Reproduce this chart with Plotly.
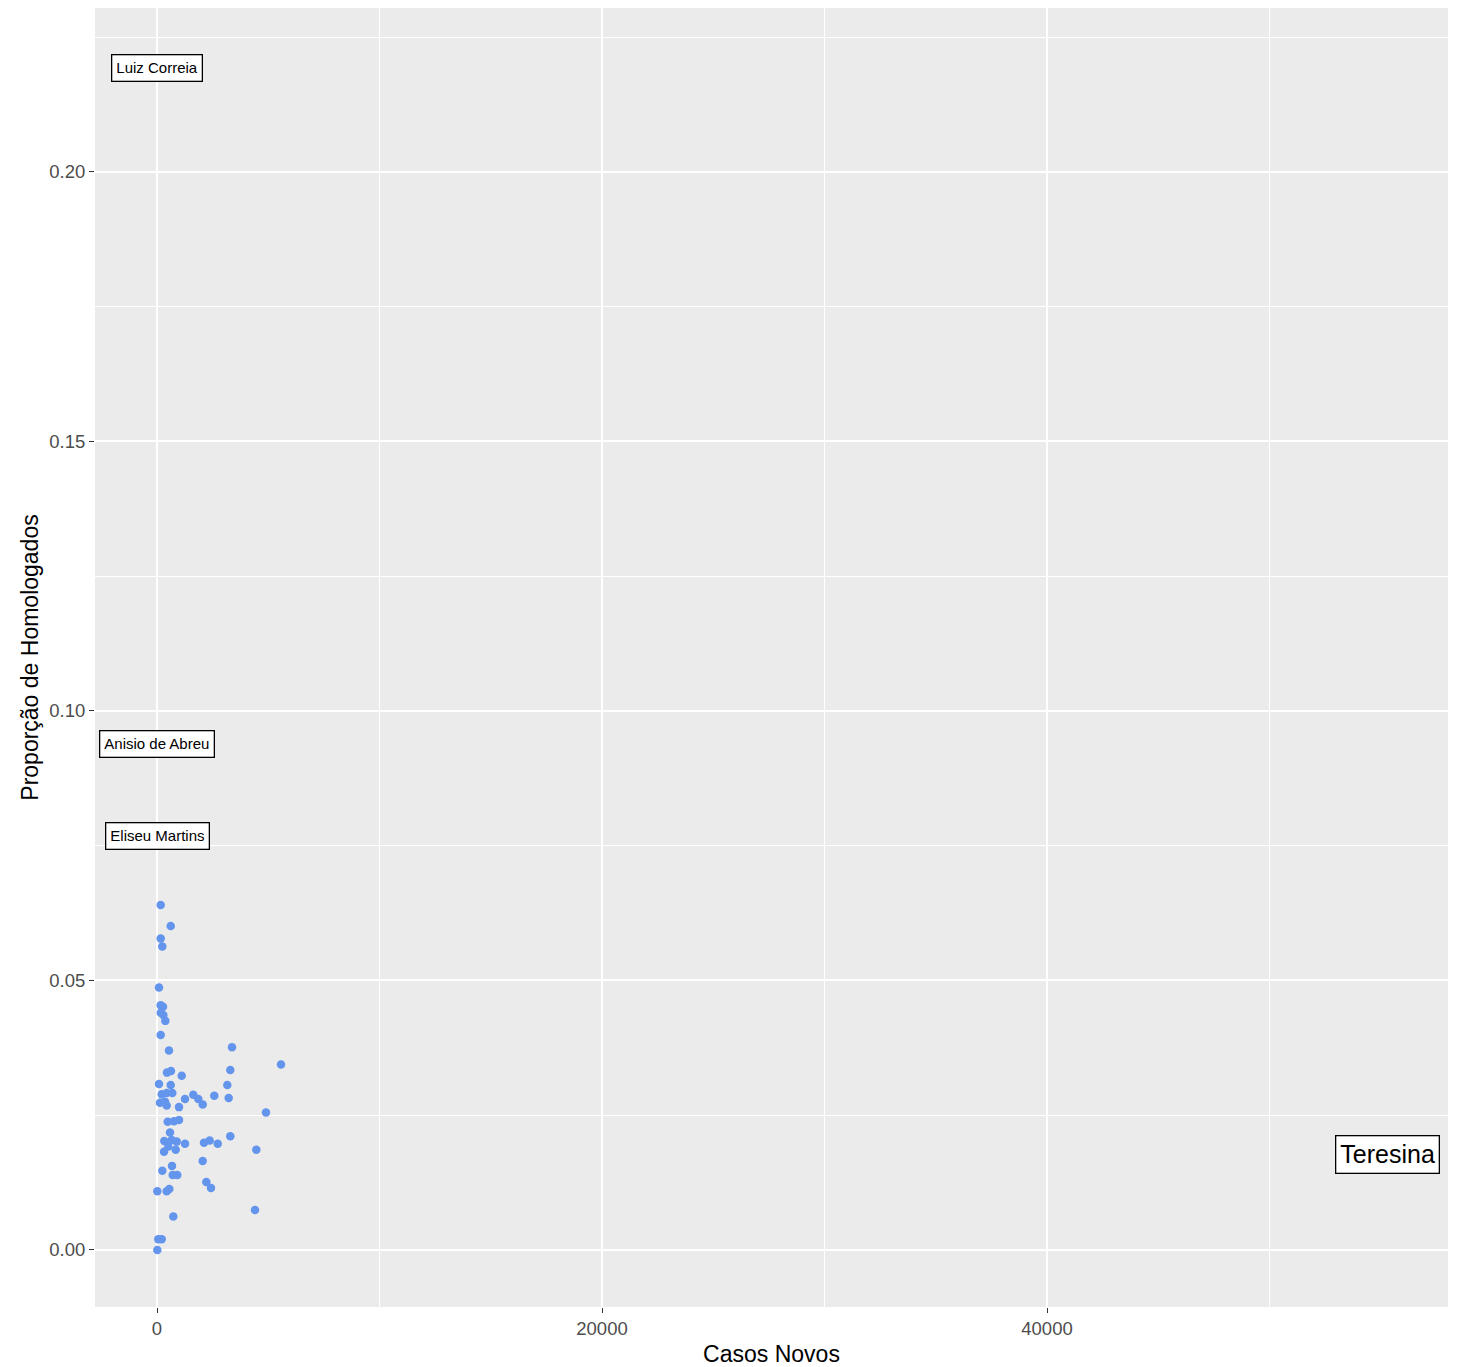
import plotly.graph_objects as go

# Unlabelled municipalities: new cases vs proportion homologated
casos_novos = [166, 616, 166, 238, 90, 166, 270, 166, 283, 373, 166, 539, 3370, 5573, 3294,
               449, 629, 1110, 90, 616, 3159, 211, 436, 688, 1258, 1631, 1856, 2054, 2575, 3222,
               135, 360, 436, 989, 4898, 481, 764, 989, 584, 328, 661, 885, 508, 840, 315,
               1258, 2112, 2368, 2728, 3294, 4463, 2054, 674, 238, 706, 912, 2216, 2427, 13,
               436, 553, 4404, 733, 58, 211, 13]
proporcao = [0.0640, 0.0601, 0.0578, 0.0563, 0.0487, 0.0454, 0.0451, 0.0440, 0.0436, 0.0425,
             0.0399, 0.0370, 0.0376, 0.0344, 0.0334, 0.0329, 0.0332, 0.0323, 0.0308, 0.0306,
             0.0306, 0.0289, 0.0291, 0.0291, 0.0280, 0.0288, 0.0280, 0.0270, 0.0286, 0.0282,
             0.0273, 0.0275, 0.0268, 0.0265, 0.0255, 0.0238, 0.0239, 0.0241, 0.0218, 0.0202,
             0.0204, 0.0201, 0.0192, 0.0186, 0.0182, 0.0197, 0.0199, 0.0203, 0.0197, 0.0211,
             0.0186, 0.0165, 0.0156, 0.0147, 0.0139, 0.0139, 0.0126, 0.0115, 0.0109, 0.0109,
             0.0113, 0.0074, 0.0062, 0.0020, 0.0020, 0.0]

# Labelled municipalities
rotulos = ["Luiz Correia", "Anisio de Abreu", "Eliseu Martins", "Teresina"]
rotulos_x = [0, 0, 0, 55300]
rotulos_y = [0.2193, 0.0939, 0.0768, 0.0178]
rotulos_tamanho = [15, 15, 15, 25]

x_ticks = [0, 20000, 40000]
y_ticks = [0.00, 0.05, 0.10, 0.15, 0.20]
y_tick_text = ["0.00", "0.05", "0.10", "0.15", "0.20"]

FONT = "Arial, Liberation Sans, sans-serif"

fig = go.Figure()
fig.add_trace(go.Scatter(
    x=casos_novos + rotulos_x, y=proporcao + rotulos_y, mode="markers",
    marker=dict(color="#6495ED", size=8.5, line=dict(width=0)),
    showlegend=False, hoverinfo="x+y"))

for t, xv, yv, s in zip(rotulos, rotulos_x, rotulos_y, rotulos_tamanho):
    fig.add_annotation(x=xv, y=yv, xref="x", yref="y", text=t, showarrow=False,
                       font=dict(family=FONT, size=s, color="black"),
                       bgcolor="white", bordercolor="black", borderwidth=1.3,
                       borderpad=4, xanchor="center", yanchor="middle")

fig.update_layout(
    width=1455, height=1359,
    margin=dict(l=87, r=15, t=0, b=60),
    paper_bgcolor="white", plot_bgcolor="#EBEBEB",
    font=dict(family=FONT, color="black"),
    xaxis=dict(range=[-2787, 58022], tickvals=x_ticks, ticktext=[str(v) for v in x_ticks],
               showgrid=True, gridcolor="white", gridwidth=1.8, zeroline=False,
               minor=dict(tickvals=[10000, 30000, 50000], showgrid=True, gridcolor="white", gridwidth=0.9, ticks=""),
               ticks="outside", ticklen=5, tickwidth=1.2, tickcolor="#333333",
               tickfont=dict(size=18.5, color="#4D4D4D", family=FONT),
               title=dict(text="Casos Novos", font=dict(size=23, color="black", family=FONT), standoff=8),
               showline=False, fixedrange=True),
    yaxis=dict(range=[-0.01058, 0.2304], tickvals=y_ticks, ticktext=y_tick_text,
               showgrid=True, gridcolor="white", gridwidth=1.8, zeroline=False,
               minor=dict(tickvals=[0.025, 0.075, 0.125, 0.175, 0.225], showgrid=True, gridcolor="white", gridwidth=0.9, ticks=""),
               ticks="outside", ticklen=5, tickwidth=1.2, tickcolor="#333333",
               tickfont=dict(size=18.5, color="#4D4D4D", family=FONT),
               title=dict(text="Proporção de Homologados", font=dict(size=23, color="black", family=FONT), standoff=4),
               showline=False, fixedrange=True),
)

fig.write_html("out.html")
